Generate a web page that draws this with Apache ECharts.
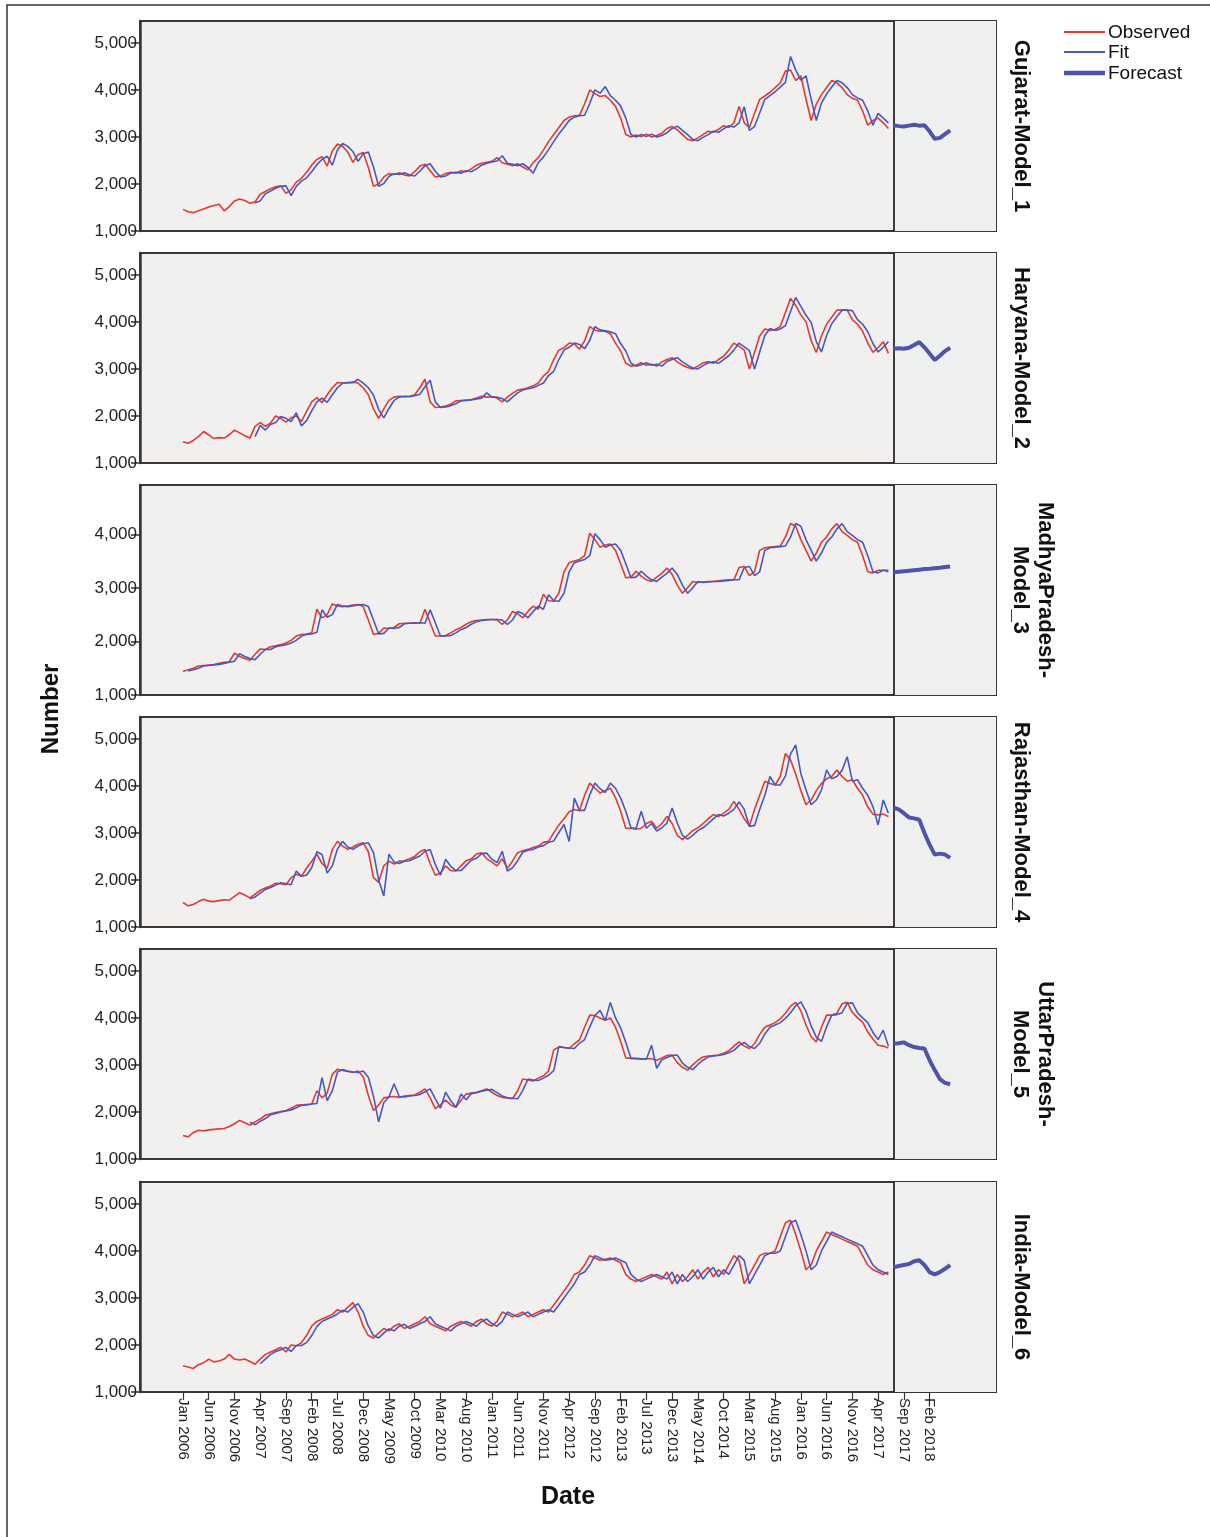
<!DOCTYPE html>
<html><head><meta charset="utf-8">
<script src="https://cdn.jsdelivr.net/npm/echarts@6/dist/echarts.min.js"></script>
<style>html,body{margin:0;padding:0;background:#fff;}#c{width:1210px;height:1537px;}</style>
</head><body><div id="c"></div>
<script>
// Month index 0 = Jan 2006; observed/fit run to Jun 2017 (index 137), forecast Jul 2017 - Jun 2018 (138-149)
const forecastStart = 138;
const xTickIndex = [0,5,10,15,20,25,30,35,40,45,50,55,60,65,70,75,80,85,90,95,100,105,110,115,120,125,130,135,140,145];
const xTickLabels = ['Jan 2006','Jun 2006','Nov 2006','Apr 2007','Sep 2007','Feb 2008','Jul 2008','Dec 2008','May 2009','Oct 2009','Mar 2010','Aug 2010','Jan 2011','Jun 2011','Nov 2011','Apr 2012','Sep 2012','Feb 2013','Jul 2013','Dec 2013','May 2014','Oct 2014','Mar 2015','Aug 2015','Jan 2016','Jun 2016','Nov 2016','Apr 2017','Sep 2017','Feb 2018'];
const panelNames = ['Gujarat-Model_1','Haryana-Model_2','MadhyaPradesh-\nModel_3','Rajasthan-Model_4','UttarPradesh-\nModel_5','India-Model_6'];
const yTicksA = [1000,2000,3000,4000,5000];
const yTicksB = [1000,2000,3000,4000];
const N = null;

const obs1 = [1460,1410,1390,1430,1470,1510,1540,1570,1430,1520,1640,1680,
1650,1590,1620,1780,1840,1900,1940,1960,1800,1880,2040,2120,
2250,2400,2520,2580,2380,2700,2850,2800,2680,2460,2620,2670,
2350,1950,2000,2150,2220,2200,2240,2190,2170,2260,2380,2420,
2280,2150,2170,2220,2250,2230,2280,2260,2320,2400,2440,2460,
2480,2560,2450,2420,2390,2430,2360,2300,2450,2560,2720,2900,
3050,3200,3350,3420,3450,3460,3700,4000,3920,3860,3880,3780,
3650,3400,3050,3000,3040,3010,3060,3000,3030,3080,3180,3220,
3150,3050,2950,2920,2980,3050,3120,3100,3160,3240,3200,3300,
3650,3300,3200,3500,3800,3870,3950,4050,4150,4400,4420,4200,
4300,3800,3350,3700,3900,4050,4200,4150,4050,3900,3820,3780,
3550,3250,3350,3400,3300,3180];
const fit1 = [N,N,N,N,N,N,N,N,N,N,N,N,
N,N,1600,1640,1790,1850,1910,1950,1960,1750,1950,2060,
2130,2260,2410,2520,2590,2400,2720,2860,2800,2690,2480,2640,
2680,2360,1950,2010,2160,2220,2200,2240,2190,2170,2270,2390,
2430,2270,2150,2170,2230,2250,2230,2280,2260,2320,2400,2440,
2470,2490,2600,2440,2420,2390,2430,2350,2230,2450,2570,2730,
2900,3060,3200,3350,3420,3450,3460,3710,4000,3930,4070,3880,
3780,3660,3400,3050,3000,3050,3010,3060,3000,3030,3090,3180,
3230,3140,3050,2950,2920,2990,3050,3120,3100,3170,3240,3210,
3300,3640,3140,3220,3510,3800,3880,3960,4060,4160,4710,4420,
4210,4300,3800,3350,3720,3910,4060,4200,4150,4050,3900,3830,
3780,3550,3250,3500,3400,3300];
const fc1 = [3250,3230,3220,3240,3260,3240,3250,3120,2960,2980,3060,3140];

const obs2 = [1450,1420,1480,1560,1670,1600,1520,1540,1530,1600,1700,1640,
1580,1530,1780,1860,1780,1850,2000,1950,1870,1960,2000,1880,
2100,2300,2390,2280,2450,2600,2710,2700,2710,2720,2700,2600,
2450,2150,1950,2150,2330,2400,2420,2410,2420,2450,2600,2780,
2300,2180,2190,2210,2250,2320,2330,2340,2350,2380,2420,2400,
2410,2380,2300,2400,2480,2550,2570,2600,2640,2700,2850,2950,
3200,3400,3450,3550,3530,3420,3600,3900,3830,3800,3800,3750,
3550,3380,3120,3060,3080,3130,3080,3100,3060,3150,3200,3240,
3150,3080,3030,3000,3060,3130,3150,3120,3200,3270,3400,3550,
3480,3400,3000,3350,3700,3850,3820,3840,3900,4200,4500,4350,
4150,4000,3600,3350,3700,3950,4100,4250,4260,4250,4050,3950,
3800,3550,3350,3450,3580,3330];
const fit2 = [N,N,N,N,N,N,N,N,N,N,N,N,
N,N,1560,1800,1700,1820,1860,1990,1950,1880,2070,1790,
1900,2110,2300,2380,2290,2450,2600,2700,2700,2710,2780,2700,
2600,2440,2140,1960,2160,2330,2400,2420,2410,2430,2460,2620,
2760,2300,2180,2190,2220,2260,2320,2330,2340,2360,2380,2490,
2400,2400,2370,2300,2400,2490,2550,2580,2600,2650,2700,2860,
2950,3200,3400,3460,3550,3520,3430,3610,3900,3830,3810,3790,
3750,3540,3380,3120,3060,3090,3130,3080,3100,3060,3160,3200,
3240,3150,3080,3020,3000,3070,3130,3150,3120,3200,3280,3400,
3550,3470,3390,3000,3360,3710,3860,3820,3850,3920,4220,4520,
4330,4140,3990,3580,3360,3710,3960,4110,4250,4250,4240,4050,
3950,3790,3540,3360,3460,3580];
const fc2 = [3430,3440,3430,3450,3510,3570,3460,3330,3190,3280,3380,3450];

const obs3 = [1440,1470,1500,1540,1550,1560,1570,1590,1610,1620,1780,1720,
1680,1650,1760,1860,1850,1900,1920,1940,1970,2020,2100,2130,
2140,2160,2600,2440,2500,2700,2660,2650,2660,2680,2690,2650,
2400,2130,2150,2250,2240,2260,2330,2340,2340,2350,2340,2600,
2350,2100,2100,2110,2160,2220,2260,2320,2370,2390,2400,2410,
2410,2400,2320,2400,2560,2520,2440,2560,2660,2600,2880,2760,
2750,2900,3300,3470,3500,3530,3600,4020,3900,3760,3800,3820,
3700,3450,3190,3200,3310,3220,3150,3120,3200,3270,3370,3250,
3050,2900,3000,3120,3100,3110,3120,3120,3130,3140,3150,3150,
3380,3400,3230,3300,3700,3750,3760,3770,3780,3950,4200,4150,
3900,3700,3500,3650,3850,3950,4100,4200,4050,3980,3900,3850,
3600,3300,3280,3330,3330,3300];
const fit3 = [N,1450,1470,1500,1540,1550,1560,1570,1590,1610,1630,1770,
1720,1680,1660,1760,1850,1850,1900,1920,1940,1970,2020,2100,
2130,2140,2170,2590,2450,2500,2690,2660,2650,2660,2680,2690,
2650,2400,2140,2150,2250,2240,2260,2330,2340,2340,2350,2340,
2590,2350,2100,2100,2110,2160,2220,2260,2320,2370,2390,2400,
2410,2410,2400,2320,2400,2560,2520,2440,2560,2660,2600,2870,
2760,2750,2900,3300,3470,3500,3530,3600,4010,3900,3760,3800,
3820,3700,3450,3190,3200,3310,3220,3150,3120,3200,3270,3370,
3250,3050,2900,3000,3120,3100,3110,3120,3120,3130,3140,3150,
3150,3380,3400,3230,3300,3700,3750,3760,3770,3780,3950,4200,
4150,3900,3700,3500,3650,3850,3950,4100,4200,4050,3980,3900,
3850,3600,3300,3280,3330,3330];
const fc3 = [3290,3300,3310,3320,3330,3340,3350,3355,3365,3375,3390,3400];

const obs4 = [1520,1450,1480,1540,1590,1550,1540,1560,1580,1570,1650,1730,
1680,1620,1700,1780,1830,1870,1930,1920,1900,2050,2120,2080,
2250,2400,2550,2350,2250,2650,2820,2720,2650,2700,2760,2790,
2600,2050,1950,2300,2400,2340,2400,2410,2450,2500,2600,2650,
2350,2100,2150,2300,2200,2190,2300,2410,2450,2550,2580,2450,
2380,2300,2450,2250,2400,2580,2620,2650,2690,2720,2800,2820,
3000,3170,3300,3450,3500,3470,3800,4060,3950,3850,3900,3950,
3750,3460,3100,3100,3080,3100,3200,3250,3100,3200,3350,3200,
2950,2860,2950,3050,3110,3200,3300,3390,3350,3420,3500,3670,
3500,3300,3150,3500,3800,4100,4050,4020,4200,4690,4550,4250,
3900,3600,3700,3900,4050,4150,4200,4340,4200,4100,4130,3950,
3800,3550,3400,3380,3400,3350];
const fit4 = [N,N,N,N,N,N,N,N,N,N,N,N,
N,1600,1640,1720,1800,1840,1890,1940,1920,1900,2190,2080,
2100,2260,2600,2540,2150,2300,2660,2820,2700,2650,2720,2770,
2790,2580,2000,1660,2550,2380,2350,2400,2410,2460,2510,2610,
2650,2330,2100,2440,2290,2200,2200,2310,2420,2460,2560,2570,
2440,2370,2610,2190,2260,2410,2590,2630,2650,2700,2730,2800,
2830,3010,3180,2820,3740,3480,3480,3810,4060,3940,3860,4060,
3950,3740,3460,3110,3100,3460,3100,3200,3040,3110,3210,3530,
3210,2950,2870,2950,3050,3110,3200,3300,3390,3360,3420,3500,
3660,3500,3140,3160,3500,3800,4200,4020,4020,4210,4680,4870,
4260,3920,3600,3700,3910,4340,4150,4200,4330,4620,4100,4130,
3950,3800,3560,3170,3700,3420];
const fc4 = [3540,3500,3420,3330,3310,3280,3000,2750,2540,2560,2540,2470];

const obs5 = [1500,1470,1560,1610,1600,1620,1630,1640,1650,1690,1750,1820,
1770,1720,1790,1850,1930,1960,1990,2010,2030,2080,2140,2150,
2160,2170,2450,2300,2400,2800,2910,2880,2860,2840,2870,2750,
2350,2030,2150,2300,2320,2330,2310,2340,2350,2360,2420,2490,
2300,2070,2150,2250,2150,2100,2250,2380,2400,2420,2450,2490,
2420,2350,2310,2300,2280,2450,2700,2680,2660,2720,2770,2870,
3320,3380,3370,3350,3450,3530,3800,4060,4050,4000,3950,4000,
3800,3500,3150,3140,3130,3120,3130,3130,3100,3150,3200,3210,
3050,2950,2890,3000,3100,3170,3190,3200,3210,3250,3300,3400,
3490,3400,3350,3450,3650,3800,3850,3900,3980,4100,4250,4330,
4150,3850,3600,3490,3800,4060,4060,4100,4300,4330,4120,4000,
3910,3700,3550,3420,3400,3360];
const fit5 = [N,N,N,N,N,N,N,N,N,N,N,N,
N,1780,1730,1800,1860,1940,1970,2000,2020,2040,2090,2140,
2150,2170,2180,2730,2240,2450,2850,2900,2870,2850,2840,2870,
2740,2330,1790,2200,2320,2600,2330,2320,2340,2350,2370,2430,
2490,2280,2080,2420,2240,2100,2380,2260,2390,2410,2440,2460,
2480,2410,2340,2300,2290,2280,2460,2700,2680,2670,2720,2780,
2880,3390,3370,3360,3350,3460,3540,3810,4050,4160,3940,4330,
4000,3790,3480,3140,3140,3130,3120,3420,2930,3110,3160,3200,
3210,3040,2950,2900,3010,3100,3170,3190,3200,3220,3260,3310,
3410,3480,3390,3350,3460,3660,3800,3850,3900,3990,4110,4260,
4340,4140,3830,3590,3500,3810,4060,4070,4110,4310,4320,4110,
4000,3900,3690,3540,3740,3400];
const fc5 = [3450,3460,3480,3420,3380,3360,3350,3100,2890,2700,2620,2590];

const obs6 = [1560,1530,1500,1580,1620,1700,1640,1660,1700,1800,1700,1680,
1700,1650,1590,1700,1800,1850,1900,1950,1850,2000,1980,2050,
2200,2400,2500,2550,2600,2650,2750,2700,2800,2900,2700,2400,
2200,2150,2250,2350,2300,2400,2450,2350,2400,2450,2500,2600,
2450,2400,2350,2300,2400,2450,2500,2450,2400,2500,2550,2450,
2400,2500,2700,2650,2600,2650,2700,2600,2650,2700,2750,2700,
2850,3000,3150,3300,3500,3550,3700,3900,3850,3800,3820,3850,
3800,3750,3500,3400,3350,3400,3450,3500,3450,3400,3550,3300,
3500,3350,3450,3600,3400,3550,3650,3450,3600,3500,3700,3900,
3800,3300,3500,3700,3900,3950,3950,4000,4300,4600,4650,4350,
4000,3600,3700,4000,4200,4400,4350,4300,4250,4200,4150,4100,
3900,3700,3600,3550,3500,3550];
const fit6 = [N,N,N,N,N,N,N,N,N,N,N,N,
N,N,N,1600,1700,1800,1860,1900,1950,1860,1990,1990,
2050,2200,2390,2500,2550,2600,2660,2740,2700,2800,2880,2700,
2400,2200,2150,2250,2340,2300,2400,2440,2350,2400,2450,2500,
2600,2450,2400,2350,2300,2400,2450,2500,2450,2400,2500,2550,
2450,2400,2500,2700,2650,2600,2650,2700,2600,2650,2700,2750,
2700,2850,3000,3150,3300,3500,3550,3700,3900,3850,3800,3820,
3850,3800,3750,3500,3400,3350,3400,3450,3500,3450,3400,3550,
3300,3500,3350,3450,3600,3400,3550,3650,3450,3600,3500,3700,
3900,3800,3300,3500,3700,3900,3950,3950,4000,4300,4600,4650,
4350,4000,3600,3700,4000,4200,4400,4350,4300,4250,4200,4150,
4100,3900,3700,3600,3550,3500];
const fc6 = [3650,3680,3700,3720,3780,3800,3700,3550,3500,3550,3620,3700];

const observed = [obs1,obs2,obs3,obs4,obs5,obs6];
const fitted = [fit1,fit2,fit3,fit4,fit5,fit6];
const forecast = [fc1,fc2,fc3,fc4,fc5,fc6];
const yMax = [5465,5465,4920,5465,5465,5465];

const tops = [21,253,485,717,949,1182];
const H = 210, LEFT = 140, W = 856;
const XMIN = -8.35, XMAX = 157.9;
const RED = '#e8372f', BLUE = '#4459c4', FC = '#4e54aa';
const FONT = '"Liberation Sans", Arial, sans-serif';

const grids=[], xAxes=[], yAxes=[], series=[], graphics=[];
for (let p=0;p<6;p++){
  grids.push({left:LEFT, top:tops[p], width:W, height:H, show:true, backgroundColor:'#f1f0ee', borderColor:'#3b3634', borderWidth:2});
  const last = p===5;
  xAxes.push({gridIndex:p, type:'value', min:XMIN, max:XMAX,
    splitLine:{show:false},
    axisLine:{show:true, onZero:false, lineStyle:{color:'#3b3634', width:2}},
    axisTick:{show:last, customValues:xTickIndex, length:8, lineStyle:{color:'#333', width:1.2}},
    axisLabel:{show:last, customValues:xTickIndex, rotate:-90, margin:6, fontFamily:FONT, fontSize:15, color:'#222',
      formatter:(v)=>{const k=xTickIndex.indexOf(Math.round(v)); return k>=0?xTickLabels[k]:'';}}
  });
  const yt = p===2 ? yTicksB : yTicksA;
  yAxes.push({gridIndex:p, type:'value', min:1000, max:yMax[p],
    splitLine:{show:false},
    axisLine:{show:true, onZero:false, lineStyle:{color:'#3b3634', width:2.5}},
    axisTick:{show:true, customValues:yt, length:9, lineStyle:{color:'#333', width:1.5}},
    axisLabel:{customValues:yt, margin:3, fontFamily:FONT, fontSize:17, color:'#222',
      formatter:(v)=>v.toLocaleString('en-US')}
  });
  series.push({type:'line', xAxisIndex:p, yAxisIndex:p, showSymbol:false, silent:true, animation:false,
    data: observed[p].map((v,i)=>[i,v]), lineStyle:{color:RED, width:1.6}, itemStyle:{color:RED}, z:3,
    markArea:{silent:true, itemStyle:{color:'#eef0f0'}, data:[[{xAxis:forecastStart},{xAxis:XMAX}]]},
    markLine:{silent:true, symbol:'none', label:{show:false}, lineStyle:{color:'#111', width:1.6, type:'solid'}, data:[{xAxis:forecastStart}]}
  });
  series.push({type:'line', xAxisIndex:p, yAxisIndex:p, showSymbol:false, silent:true, animation:false,
    data: fitted[p].map((v,i)=>[i,v]).filter(d=>d[1]!==null), lineStyle:{color:BLUE, width:1.6}, itemStyle:{color:BLUE}, z:4});
  series.push({type:'line', xAxisIndex:p, yAxisIndex:p, showSymbol:false, silent:true, animation:false,
    data: forecast[p].map((v,k)=>[forecastStart+k,v]), lineStyle:{color:FC, width:4}, itemStyle:{color:FC}, z:5});
  const two = panelNames[p].indexOf('\n')>=0;
  graphics.push({type:'text', x: two?1033:1021, y: tops[p]+H/2, rotation:-Math.PI/2,
    style:{text:panelNames[p], font:'bold 22px '+FONT, fill:'#111', textAlign:'center', textVerticalAlign:'middle', verticalAlign:'middle', lineHeight:25}});
}
graphics.push({type:'rect', shape:{x:7,y:5,width:1230,height:1560}, style:{fill:'none', stroke:'#333', lineWidth:1.5}, silent:true});
graphics.push({type:'text', x:51, y:709, rotation:Math.PI/2, style:{text:'Number', font:'bold 24px '+FONT, fill:'#111', textAlign:'center', textVerticalAlign:'middle', verticalAlign:'middle'}});
graphics.push({type:'text', x:568, y:1497, style:{text:'Date', font:'bold 25px '+FONT, fill:'#111', textAlign:'center', textVerticalAlign:'middle', verticalAlign:'middle'}});
const legendItems = [['Observed',RED,2,32],['Fit',BLUE,2,52],['Forecast',FC,4.5,73]];
legendItems.forEach(it=>{
  graphics.push({type:'line', shape:{x1:1064,y1:it[3],x2:1105,y2:it[3]}, style:{stroke:it[1], lineWidth:it[2]}});
  graphics.push({type:'text', x:1108, y:it[3]+1, style:{text:it[0], font:'19px '+FONT, fill:'#111', textAlign:'left', textVerticalAlign:'middle', verticalAlign:'middle'}});
});

const chart = echarts.init(document.getElementById('c'), null, {renderer:'canvas'});
chart.setOption({animation:false, backgroundColor:'#ffffff', grid:grids, xAxis:xAxes, yAxis:yAxes, series:series, graphic:graphics});
</script></body></html>
